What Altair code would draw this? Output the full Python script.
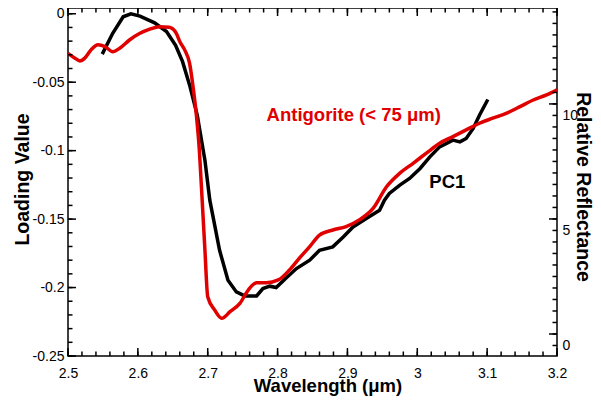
import altair as alt
import pandas as pd

# PC1 loading (left axis)
pc1_wl = [2.549, 2.564, 2.579, 2.590, 2.603, 2.624, 2.641, 2.654, 2.664, 2.674, 2.685, 2.696,
          2.703, 2.717, 2.729, 2.741, 2.753, 2.770, 2.779, 2.789, 2.798, 2.813, 2.827, 2.846,
          2.860, 2.879, 2.894, 2.908, 2.927, 2.946, 2.953, 2.960, 2.975, 2.989, 3.004, 3.018,
          3.032, 3.051, 3.061, 3.070, 3.080, 3.089, 3.101]
pc1_load = [-0.0295, -0.0143, -0.0022, 0.0, -0.0017, -0.0066, -0.013, -0.023, -0.035, -0.052, -0.074, -0.107,
            -0.1362, -0.1728, -0.1947, -0.2032, -0.2061, -0.2061, -0.2007, -0.199, -0.200, -0.1927, -0.1861, -0.180,
            -0.1728, -0.1703, -0.163, -0.1557, -0.1496, -0.1435, -0.1362, -0.1313, -0.1252, -0.1203, -0.1130, -0.1045,
            -0.0972, -0.0923, -0.0936, -0.0911, -0.0838, -0.0741, -0.0626]

# Antigorite (< 75 um) reflectance (right axis)
ant_wl = [2.500, 2.510, 2.517, 2.524, 2.533, 2.543, 2.553, 2.564, 2.574, 2.588, 2.603, 2.617, 2.631,
          2.645, 2.655, 2.660, 2.667, 2.674, 2.679, 2.684, 2.688, 2.691, 2.696, 2.700, 2.710, 2.720,
          2.732, 2.746, 2.758, 2.770, 2.784, 2.801, 2.817, 2.831, 2.846, 2.860, 2.879, 2.898, 2.917,
          2.937, 2.956, 2.975, 2.994, 3.013, 3.032, 3.051, 3.070, 3.089, 3.108, 3.128, 3.147, 3.166,
          3.185, 3.200]
ant_refl = [12.20, 11.99, 11.87, 11.99, 12.35, 12.57, 12.49, 12.27, 12.42, 12.78, 13.07, 13.25, 13.36,
            13.33, 13.07, 12.71, 12.35, 11.77, 10.75, 9.45, 8.00, 6.40, 3.65, 1.62, 1.04, 0.68,
            0.97, 1.33, 1.91, 2.23, 2.23, 2.35, 2.78, 3.29, 3.80, 4.30, 4.52, 4.67, 4.96,
            5.47, 6.40, 6.99, 7.42, 7.86, 8.29, 8.58, 8.87, 9.16, 9.38, 9.60, 9.88, 10.17,
            10.39, 10.61]

# annotations
ann_text = ["Antigorite (< 75 μm)", "PC1"]
ann_wl = [2.909, 3.043]
ann_load = [-0.0737, -0.1227]
ann_color = ["#e00000", "black"]

# axis ticks / labels
x_major = [2.5, 2.6, 2.7, 2.8, 2.9, 3.0, 3.1, 3.2]
x_minor = [round(2.5 + 0.02 * i, 2) for i in range(36)]
yl_major = [0, -0.05, -0.1, -0.15, -0.2, -0.25]
yl_minor = [round(-0.01 * i, 2) for i in range(26)]
yr_major = [0, 5, 10]
yr_minor = [0.5 * i for i in range(-1, 29)]

W, H = 489, 348
XDOM = [2.5, 3.2]
YL = [-0.25, 0.0042]
YR = [-0.957, 14.17]
FONT = "Liberation Sans"
RED = "#e00000"
MAJ, MIN = 8, 4.5

pc1 = pd.DataFrame({"wl": pc1_wl, "v": pc1_load})
ant = pd.DataFrame({"wl": ant_wl, "v": ant_refl})
ann = pd.DataFrame({"t": ann_text, "wl": ann_wl, "v": ann_load, "c": ann_color})

xs = alt.Scale(domain=XDOM, nice=False, zero=False)
yls = alt.Scale(domain=YL, nice=False, zero=False)
yrs = alt.Scale(domain=YR, nice=False, zero=False)

black = alt.Chart(pc1).mark_line(color="black", strokeWidth=3.5).encode(
    x=alt.X("wl:Q", scale=xs, axis=alt.Axis(
        orient="bottom", values=x_major, labelExpr="'' + datum.value", ticks=False, tickSize=0,
        domain=False, grid=False, labelFlush=False, labelPadding=10, labelFontSize=14,
        labelColor="black", labelFont=FONT, title="Wavelength (μm)", titleFont=FONT,
        titleFontSize=18.5, titleFontWeight="bold", titleColor="black", titleX=259.5,
        titleY=35.5, titleBaseline="alphabetic", titleAlign="center")),
    y=alt.Y("v:Q", scale=yls, axis=alt.Axis(
        orient="left", values=yl_major, labelExpr="'' + datum.value", ticks=False, tickSize=0,
        domain=False, grid=False, labelFlush=False, labelPadding=4, labelFontSize=14,
        labelColor="black", labelFont=FONT, title="Loading Value", titleFont=FONT,
        titleFontSize=19.5, titleFontWeight="bold", titleColor="black", titleX=-45.5,
        titleY=171, titleAngle=-90, titleBaseline="middle", titleAlign="center")),
)

red = alt.Chart(ant).mark_line(color=RED, strokeWidth=3.5, interpolate="monotone").encode(
    x=alt.X("wl:Q", scale=xs, axis=None),
    y=alt.Y("v:Q", scale=yrs, axis=alt.Axis(
        orient="right", values=yr_major, labelExpr="'' + datum.value", ticks=False, tickSize=0,
        domain=False, grid=False, labelFlush=False, labelPadding=5, labelOffset=11.5,
        labelFontSize=14, labelColor="black", labelFont=FONT, title="Relative Reflectance",
        titleFont=FONT, titleFontSize=19.5, titleFontWeight="bold", titleColor="black",
        titleX=25, titleY=178.5, titleAngle=90, titleBaseline="middle", titleAlign="center")),
)


def xticks(values, top, length):
    df = pd.DataFrame({"t": values})
    y0, y1 = (0, length) if top else (H, H - length)
    return alt.Chart(df).mark_rule(color="black", strokeWidth=1.5).encode(
        x=alt.X("t:Q", scale=xs, axis=None),
        y=alt.value(y0), y2=alt.value(y1),
    )


def yticks(values, scale, right, length):
    df = pd.DataFrame({"t": values})
    x0, x1 = (W, W - length) if right else (0, length)
    return alt.Chart(df).mark_rule(color="black", strokeWidth=1.5).encode(
        y=alt.Y("t:Q", scale=scale, axis=None),
        x=alt.value(x0), x2=alt.value(x1),
    )


tick_layers = [
    xticks(x_major, False, MAJ), xticks(x_minor, False, MIN),
    xticks(x_major, True, MAJ), xticks(x_minor, True, MIN),
    yticks(yl_major, yls, False, MAJ), yticks(yl_minor, yls, False, MIN),
    yticks(yr_major, yrs, True, MAJ), yticks(yr_minor, yrs, True, MIN),
]

labels = alt.Chart(ann).mark_text(font=FONT, fontSize=18.5, fontWeight="bold",
                                  align="center", baseline="middle").encode(
    x=alt.X("wl:Q", scale=xs, axis=None),
    y=alt.Y("v:Q", scale=yls, axis=None),
    text="t:N",
    color=alt.Color("c:N", scale=None),
)

chart = alt.layer(black, red, labels, *tick_layers).resolve_scale(
    y="independent"
).resolve_axis(
    x="independent", y="independent"
).properties(
    width=W, height=H,
    autosize=alt.AutoSizeParams(type="none"),
    padding={"left": 60, "top": 0, "right": 36, "bottom": 42},
).configure_view(
    stroke="black", strokeWidth=1.5
)

chart.save("out.html", embed_options={"renderer": "svg", "actions": False})
